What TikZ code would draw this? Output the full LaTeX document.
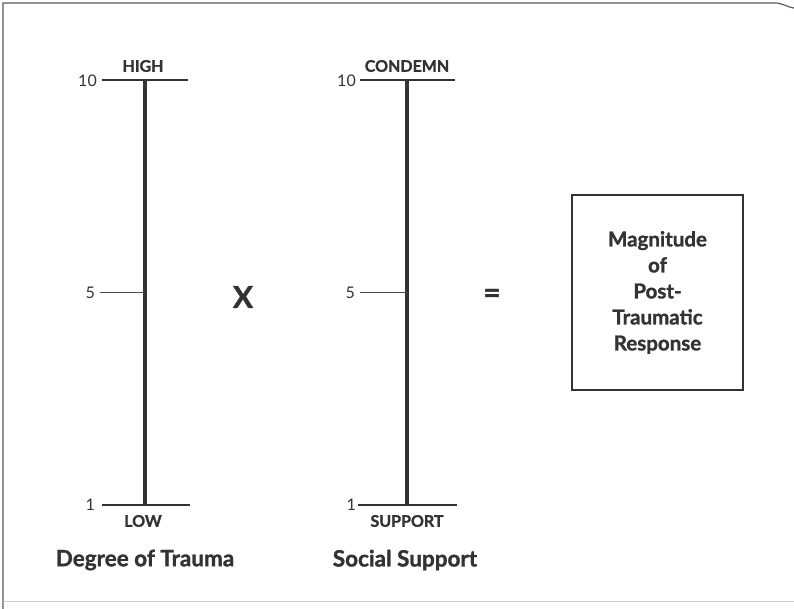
\documentclass[tikz,border=0pt]{standalone}
\usepackage{fontspec}
\setmainfont{Lato}
\newfontfamily\heavyfont{Lato Bold}[FakeBold=1.3]
\begin{document}
\begin{tikzpicture}[x=1pt,y=-1pt,
  axis/.style={draw=black!80,line width=3.6pt},
  capbar/.style={draw=black!80,line width=2.6pt},
  tick/.style={draw=black!70,line width=1pt},
  endlabel/.style={font=\fontsize{16}{18}\heavyfont,text=black!80,inner sep=0pt},
  num/.style={font=\fontsize{16}{17}\selectfont,text=black!80,inner sep=0pt,anchor=east},
  caption/.style={font=\fontsize{22.5}{26}\heavyfont,text=black!80,inner sep=0pt},
  op/.style={font=\fontsize{30}{32}\heavyfont,text=black!80,inner sep=0pt},
  resultbox/.style={draw=black!80,line width=2.8pt,minimum width=171pt,minimum height=195pt,inner sep=0pt,
    align=center,font=\fontsize{20.5}{26}\heavyfont,text=black!80}]
\useasboundingbox (0,0) rectangle (794,609);
% page frame
\draw[black!65,line width=1.2pt] (3,609) -- (3,3) -- (775,3) to[out=0,in=172] (794,8);
\draw[black!20,line width=1pt] (3,601) -- (794,601);

% ---- Degree of Trauma scale ----
\coordinate (t10) at (145,80);
\coordinate (t1) at (145,505);
\coordinate (t5) at (145,292);
\coordinate (t10l) at (102,80);
\coordinate (t10r) at (188,80);
\coordinate (t1l) at (102,505);
\coordinate (t1r) at (190,505);
\coordinate (t5l) at (100,292);
\draw[axis] (t10) -- (t1);
\draw[capbar] (t10l) -- (t10r);
\draw[capbar] (t1l) -- (t1r);
\draw[tick] (t5l) -- (t5);
\node[num] (tn10) at (97,81) {10};
\node[num] (tn5) at (95,293) {5};
\node[num] (tn1) at (95,505) {1};
\node[endlabel] (thigh) at (143,66) {HIGH};
\node[endlabel] (tlow) at (143,521) {LOW};
\node[caption] (tcap) at (145,560) {Degree of Trauma};

% ---- multiplication sign ----
\node[op] (times) at (243,297) {X};

% ---- Social Support scale ----
\coordinate (s10) at (407,80);
\coordinate (s1) at (407,505);
\coordinate (s5) at (407,292);
\coordinate (s10l) at (360,80);
\coordinate (s10r) at (455,80);
\coordinate (s1l) at (358,505);
\coordinate (s1r) at (457,505);
\coordinate (s5l) at (360,292);
\draw[axis] (s10) -- (s1);
\draw[capbar] (s10l) -- (s10r);
\draw[capbar] (s1l) -- (s1r);
\draw[tick] (s5l) -- (s5);
\node[num] (sn10) at (356,81) {10};
\node[num] (sn5) at (355,293) {5};
\node[num] (sn1) at (356,505) {1};
\node[endlabel] (scondemn) at (407,66) {CONDEMN};
\node[endlabel] (ssupport) at (407,521) {SUPPORT};
\node[caption] (scap) at (405,560) {Social Support};

% ---- equals sign ----
\node[op] (equals) at (492,296) {=};

% ---- result ----
\node[resultbox] (result) at (657.5,292.5) {Magnitude\\of\\Post-\\Traumatic\\Response};
\end{tikzpicture}
\end{document}
